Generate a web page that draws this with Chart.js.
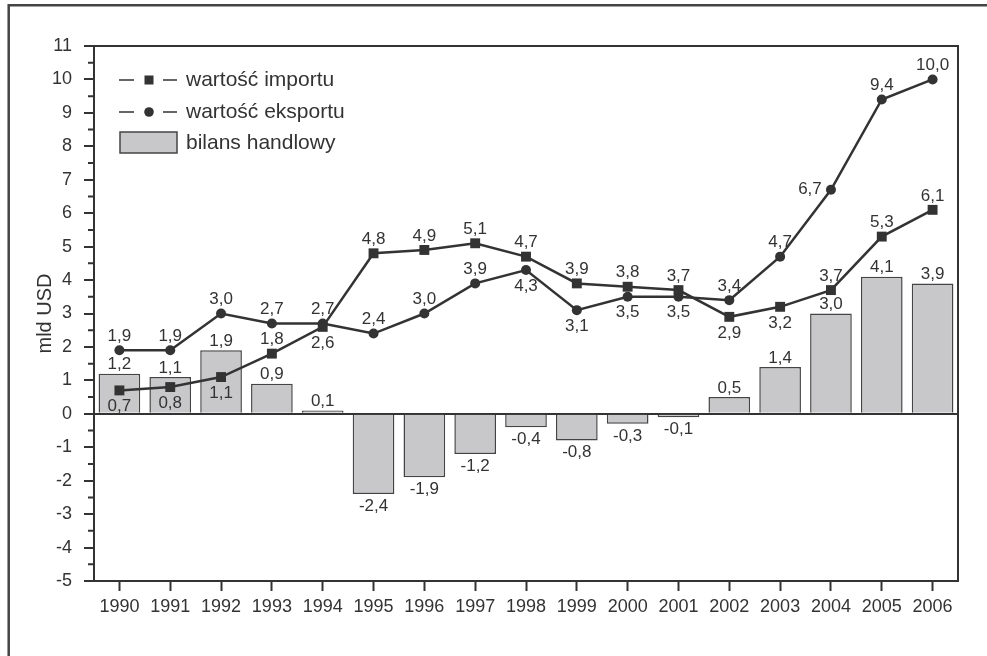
<!DOCTYPE html>
<html><head><meta charset="utf-8">
<script src="https://cdn.jsdelivr.net/npm/chart.js@4.4.1/dist/chart.umd.min.js"></script>
<style>html,body{margin:0;padding:0;background:#fff}#wrap{position:relative;width:987px;height:656px}</style>
</head><body><div id="wrap"><canvas id="c" width="987" height="656"></canvas></div>
<script>
const years = ['1990','1991','1992','1993','1994','1995','1996','1997','1998','1999','2000','2001','2002','2003','2004','2005','2006'];
const importValues = [0.7,0.8,1.1,1.8,2.6,4.8,4.9,5.1,4.7,3.9,3.8,3.7,2.9,3.2,3.7,5.3,6.1];
const exportValues = [1.9,1.9,3.0,2.7,2.7,2.4,3.0,3.9,4.3,3.1,3.5,3.5,3.4,4.7,6.7,9.4,10.0];
const balanceValues = [1.2,1.1,1.9,0.9,0.1,-2.4,-1.9,-1.2,-0.4,-0.8,-0.3,-0.1,0.5,1.4,3.0,4.1,3.9];
const seriesNames = ['wartość importu','wartość eksportu','bilans handlowy'];
const axisTitle = 'mld USD';
const yMin = -5, yMax = 11;

// label placement (styling only)
const importLabelPlace = ['below','below','below','above','below','above','above','above','above','above','above','above','below','below','above','above','above'];
const exportLabelPlace = ['above','above','above','above','above','above','above','above','below','below','below','below','above','above','left','above','above'];

const INK = '#333';
const FONT = '"Liberation Sans", Arial, sans-serif';
const fmt = v => v.toFixed(1).replace('.', ',');

const decorPlugin = {
  id: 'decor',
  beforeDraw(chart) {
    const ctx = chart.ctx;
    ctx.save();
    ctx.fillStyle = '#fff';
    ctx.fillRect(0, 0, chart.width, chart.height);
    ctx.strokeStyle = '#444';
    ctx.lineWidth = 2.5;
    ctx.beginPath();
    ctx.moveTo(8.7, 656); ctx.lineTo(8.7, 5.3); ctx.lineTo(987, 5.3);
    ctx.stroke();
    ctx.restore();
  },
  afterDraw(chart) {
    const ctx = chart.ctx;
    const a = chart.chartArea;
    const y = chart.scales.y;
    ctx.save();
    // plot box
    ctx.strokeStyle = INK;
    ctx.lineWidth = 2;
    ctx.strokeRect(a.left, a.top, a.right - a.left, a.bottom - a.top);
    // minor ticks
    ctx.lineWidth = 2;
    ctx.beginPath();
    for (let v = yMin + 0.5; v < yMax; v += 1) {
      const py = y.getPixelForValue(v);
      ctx.moveTo(a.left - 6, py); ctx.lineTo(a.left, py);
    }
    ctx.stroke();
    // data labels
    ctx.fillStyle = INK;
    ctx.font = '17px ' + FONT;
    ctx.textAlign = 'center';
    ctx.textBaseline = 'middle';
    const barMeta = chart.getDatasetMeta(2);
    barMeta.data.forEach((el, i) => {
      const v = balanceValues[i];
      const ty = v >= 0 ? el.y - 9 : el.y + 12;
      ctx.fillText(fmt(v), el.x, ty);
    });
    const drawLineLabels = (idx, vals, places) => {
      chart.getDatasetMeta(idx).data.forEach((el, i) => {
        const p = places[i];
        let tx = el.x, ty = el.y;
        if (p === 'above') ty -= 14;
        else if (p === 'below') ty += 16;
        else { tx -= 21; }
        ctx.fillText(fmt(vals[i]), tx, ty);
      });
    };
    drawLineLabels(0, importValues, importLabelPlace);
    drawLineLabels(1, exportValues, exportLabelPlace);
    // legend
    const ds = chart.data.datasets;
    ctx.font = '21px ' + FONT;
    ctx.textAlign = 'left';
    ctx.textBaseline = 'middle';
    ctx.strokeStyle = INK;
    ctx.lineWidth = 1.5;
    const rows = [80, 112];
    [0, 1].forEach((k, r) => {
      const ry = rows[r];
      ctx.beginPath();
      ctx.moveTo(119, ry); ctx.lineTo(134, ry);
      ctx.moveTo(163, ry); ctx.lineTo(177, ry);
      ctx.stroke();
      ctx.fillStyle = INK;
      if (k === 0) ctx.fillRect(144.5, ry - 4.5, 9, 9);
      else { ctx.beginPath(); ctx.arc(149, ry, 4.8, 0, Math.PI * 2); ctx.fill(); }
      ctx.fillText(ds[k].label, 186, ry);
    });
    ctx.fillStyle = '#c8c8ca';
    ctx.fillRect(120, 132, 57, 21);
    ctx.strokeStyle = '#444';
    ctx.lineWidth = 1.5;
    ctx.strokeRect(120, 132, 57, 21);
    ctx.fillStyle = INK;
    ctx.fillText(ds[2].label, 186, 143);
    ctx.restore();
  }
};

new Chart(document.getElementById('c'), {
  type: 'bar',
  data: {
    labels: years,
    datasets: [
      { type: 'line', label: seriesNames[0], data: importValues, order: 0,
        borderColor: INK, borderWidth: 2.5, tension: 0,
        pointStyle: 'rect', pointRadius: 7, pointBackgroundColor: INK, pointBorderWidth: 0 },
      { type: 'line', label: seriesNames[1], data: exportValues, order: 1,
        borderColor: INK, borderWidth: 2.5, tension: 0,
        pointStyle: 'circle', pointRadius: 5, pointBackgroundColor: INK, pointBorderWidth: 0 },
      { type: 'bar', label: seriesNames[2], data: balanceValues, order: 2,
        backgroundColor: '#c8c8ca', borderColor: '#444', borderWidth: 1.5,
        barPercentage: 0.82, categoryPercentage: 1 }
    ]
  },
  options: {
    responsive: false,
    animation: false,
    devicePixelRatio: 1,
    layout: { padding: { top: 46, right: 29, left: 0, bottom: 0 } },
    plugins: { legend: { display: false }, tooltip: { enabled: false } },
    scales: {
      x: {
        offset: true,
        border: { display: false },
        grid: { offset: false, drawOnChartArea: false, drawTicks: true, tickLength: 10, tickColor: INK, tickWidth: 2 },
        ticks: { color: INK, font: { family: FONT, size: 18 }, padding: 5, maxRotation: 0, autoSkip: false },
        afterFit(s) { s.height = 75; }
      },
      y: {
        min: yMin, max: yMax,
        border: { display: false },
        grid: {
          drawOnChartArea: true, drawTicks: true, tickLength: 10, tickColor: INK, tickWidth: 2,
          color: c => (c.tick && c.tick.value === 0) ? INK : 'rgba(0,0,0,0)',
          lineWidth: c => (c.tick && c.tick.value === 0) ? 2 : 0
        },
        ticks: { stepSize: 1, color: INK, font: { family: FONT, size: 18 }, padding: 12 },
        title: { display: true, text: axisTitle, color: INK, font: { family: FONT, size: 20, lineHeight: 1.2 }, padding: { top: 33, bottom: 0 } },
        afterFit(s) { s.width = 94; }
      }
    }
  },
  plugins: [decorPlugin]
});
</script>
</body></html>
